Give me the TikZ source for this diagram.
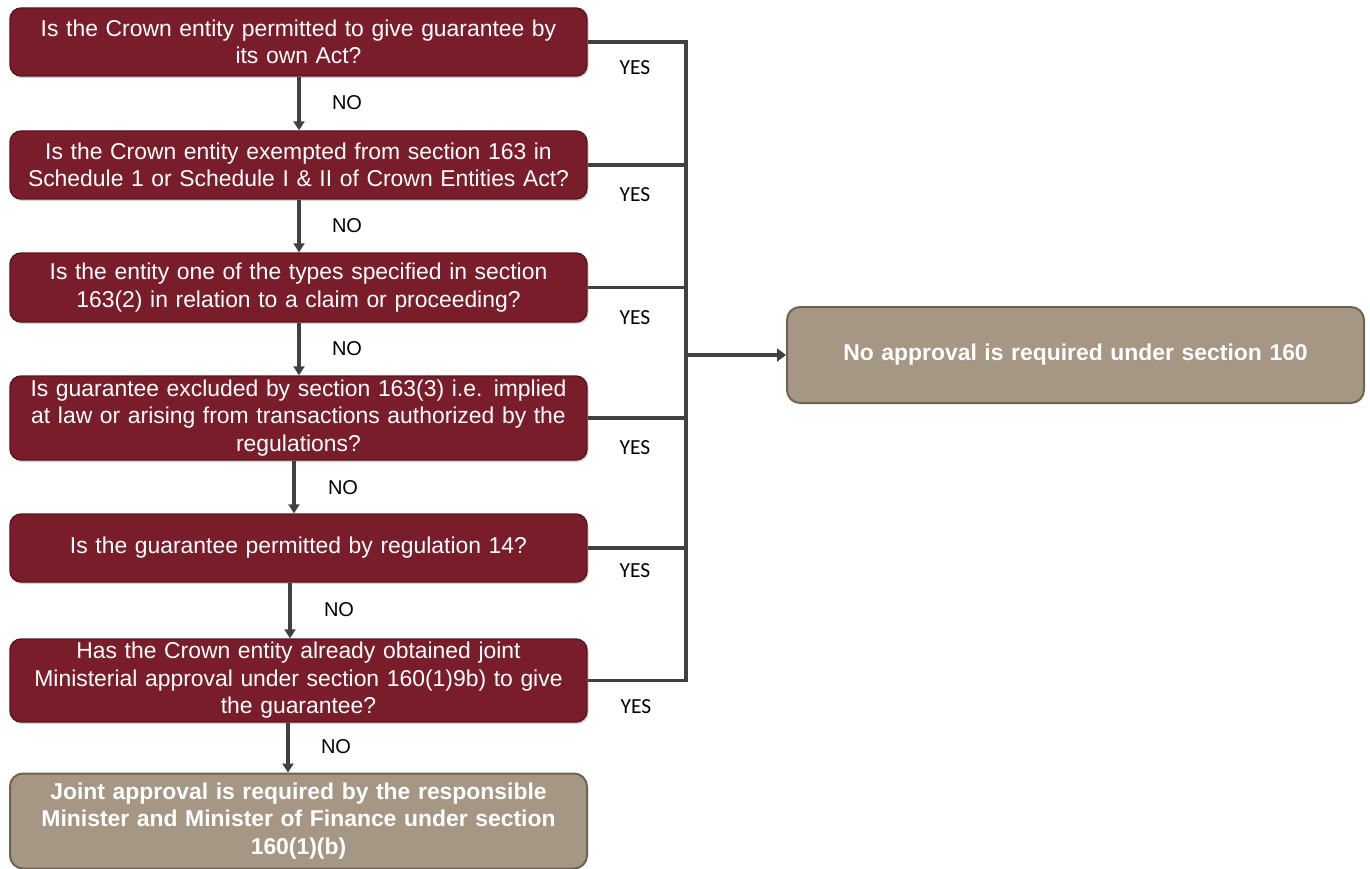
\documentclass[tikz,border=0pt]{standalone}
\usepackage{fontspec}
\setmainfont{Liberation Sans}
\newfontfamily\labelfont{Carlito}
\usetikzlibrary{shadows,arrows.meta}
\definecolor{qred}{HTML}{7A1D2A}
\definecolor{qredline}{HTML}{58161F}
\definecolor{tan}{HTML}{A69784}
\definecolor{tanline}{HTML}{6F6253}
\definecolor{conn}{HTML}{404040}
\begin{document}
\begin{tikzpicture}[x=1pt,y=-1pt,
  question/.style={draw=qredline, line width=1.4pt, fill=qred, rounded corners=11pt,
    minimum width=577pt, text width=570pt, align=center, text=white,
    font=\fontsize{22.9}{27.5}\selectfont, inner sep=0pt,
    drop shadow={shadow xshift=1.5pt, shadow yshift=-2pt, opacity=0.35}},
  result/.style={draw=tanline, line width=2pt, fill=tan, rounded corners=13pt,
    minimum width=577pt, text width=570pt, align=center, text=white,
    font=\fontsize{22.9}{27.5}\selectfont\bfseries, inner sep=0pt},
  flow/.style={draw=conn, line width=3.2pt, -{Triangle[length=9pt,width=11pt]}},
  branch/.style={draw=conn, line width=3.2pt},
  yes/.style={font=\labelfont\fontsize{21.5}{22}\selectfont, text=black},
  no/.style={font=\fontsize{20}{22}\selectfont, text=black}]
\useasboundingbox (0,0) rectangle (1370,869);

% question boxes down the left
\node[question, minimum height=68pt] (q1) at (298.5,42)
  {Is the Crown entity permitted to give guarantee by\\its own Act?};
\node[question, minimum height=68pt] (q2) at (298.5,165)
  {Is the Crown entity exempted from section 163 in\\Schedule 1 or Schedule I \& II of Crown Entities Act?};
\node[question, minimum height=69pt] (q3) at (298.5,287.5)
  {Is the entity one of the types specified in section\\163(2) in relation to a claim or proceeding?};
\node[question, minimum height=84pt] (q4) at (298.5,418)
  {Is guarantee excluded by section 163(3) i.e. implied\\at law or arising from transactions authorized by the\\regulations?};
\node[question, minimum height=68pt] (q5) at (298.5,548)
  {Is the guarantee permitted by regulation 14?};
\node[question, minimum height=83pt] (q6) at (298.5,680.5)
  {Has the Crown entity already obtained joint\\Ministerial approval under section 160(1)9b) to give\\the guarantee?};

% outcomes
\node[result, minimum height=95pt] (joint) at (298.5,821)
  {Joint approval is required by the responsible\\Minister and Minister of Finance under section\\160(1)(b)};
\node[result, minimum height=96pt] (none) at (1075.5,355)
  {No approval is required under section 160};

% NO arrows
\coordinate (n1) at (299,0);
\coordinate (n2) at (299,0);
\coordinate (n3) at (299,0);
\coordinate (n4) at (294,0);
\coordinate (n5) at (290,0);
\coordinate (n6) at (288,0);
\draw[flow] (q1.south -| n1) -- (q2.north -| n1);
\draw[flow] (q2.south -| n2) -- (q3.north -| n2);
\draw[flow] (q3.south -| n3) -- (q4.north -| n3);
\draw[flow] (q4.south -| n4) -- (q5.north -| n4);
\draw[flow] (q5.south -| n5) -- (q6.north -| n5);
\draw[flow] (q6.south -| n6) -- (joint.north -| n6);
\node[no] (no1) at (347,103) {NO};
\node[no] (no2) at (347,226) {NO};
\node[no] (no3) at (347,349) {NO};
\node[no] (no4) at (343,488) {NO};
\node[no] (no5) at (339,610) {NO};
\node[no] (no6) at (336,747) {NO};

% YES branches joining the collector line
\coordinate (bus) at (686,0);
\draw[branch] (q1.east) -- (q1.east -| bus) -- (q6.east -| bus) -- (q6.east);
\draw[branch] (q2.east) -- (q2.east -| bus);
\draw[branch] (q3.east) -- (q3.east -| bus);
\draw[branch] (q4.east) -- (q4.east -| bus);
\draw[branch] (q5.east) -- (q5.east -| bus);
\draw[draw=conn, line width=4.6pt, -{Triangle[length=9pt,width=13pt]}]
  (none.west -| bus) -- (none.west);
\node[yes] (y1) at (635,68) {YES};
\node[yes] (y2) at (635,195) {YES};
\node[yes] (y3) at (635,318) {YES};
\node[yes] (y4) at (635,448) {YES};
\node[yes] (y5) at (635,571) {YES};
\node[yes] (y6) at (636,707) {YES};
\end{tikzpicture}
\end{document}
